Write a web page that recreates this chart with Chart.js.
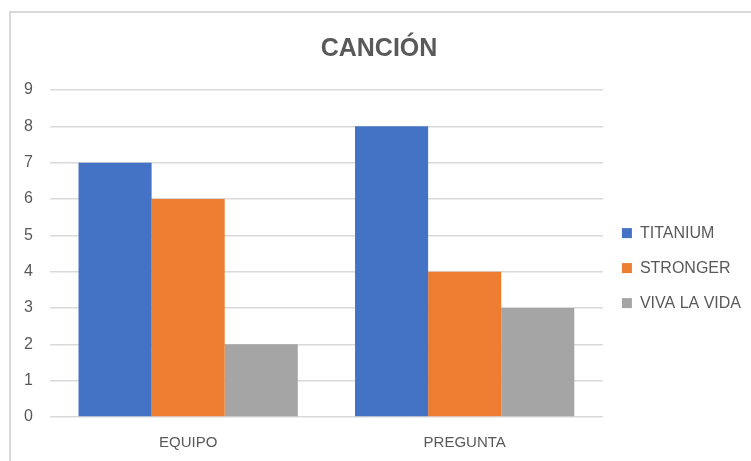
<!DOCTYPE html>
<html>
<head>
<meta charset="utf-8">
<script src="https://cdn.jsdelivr.net/npm/chart.js@4.4.1/dist/chart.umd.min.js"></script>
<style>
  html, body { margin: 0; padding: 0; background: #fff; overflow: hidden; }
  #frame { position: absolute; left: 9px; top: 11px; width: 800px; height: 500px; border: 2px solid #d9d9d9; }
  #wrap { position: absolute; left: 0; top: 0; width: 751px; height: 461px; }
</style>
</head>
<body>
<div id="frame"></div>
<div id="wrap"><canvas id="bars"></canvas></div>
<script>
const categories = ["EQUIPO", "PREGUNTA"];
const titanium = [7, 8];
const stronger = [6, 4];
const vivaLaVida = [2, 3];
const seriesNames = ["TITANIUM", "STRONGER", "VIVA LA VIDA"];
const yMax = 9;

const grey = "#595959";
const fontFamily = "'Liberation Sans', Arial, sans-serif";

const ctx = document.getElementById("bars");

new Chart(ctx, {
  type: "bar",
  data: {
    labels: categories,
    datasets: [
      { label: seriesNames[0], data: titanium, backgroundColor: "#4472c4" },
      { label: seriesNames[1], data: stronger, backgroundColor: "#ed7d31" },
      { label: seriesNames[2], data: vivaLaVida, backgroundColor: "#a5a5a5" },
    ],
  },
  options: {
    responsive: true,
    maintainAspectRatio: false,
    animation: false,
    datasets: {
      bar: {
        categoryPercentage: 0.793,
        barPercentage: 1,
        borderWidth: 0,
      },
    },
    layout: {
      padding: { left: 7, right: 0, top: 14, bottom: -8 },
    },
    scales: {
      x: {
        grid: { display: false, drawTicks: false },
        border: { display: false },
        ticks: {
          color: grey,
          padding: 17,
          font: { family: fontFamily, size: 15 },
        },
      },
      y: {
        min: 0,
        max: yMax,
        grid: { color: "#d9d9d9", lineWidth: 1.5, drawTicks: false },
        border: { display: false },
        ticks: {
          stepSize: 1,
          color: grey,
          padding: 17,
          font: { family: fontFamily, size: 16 },
        },
      },
    },
    plugins: {
      tooltip: { enabled: false },
      title: {
        display: true,
        text: "CANCIÓN",
        color: grey,
        font: { family: fontFamily, size: 25, weight: "bold" },
        padding: { top: 20, bottom: 26 },
      },
      legend: {
        display: true,
        position: "right",
        title: {
          display: true,
          text: " ",
          font: { size: 6 },
          padding: 23,
        },
        labels: {
          boxWidth: 10,
          boxHeight: 10,
          padding: 19,
          color: grey,
          font: { family: fontFamily, size: 16 },
        },
      },
    },
  },
});
</script>
</body>
</html>
